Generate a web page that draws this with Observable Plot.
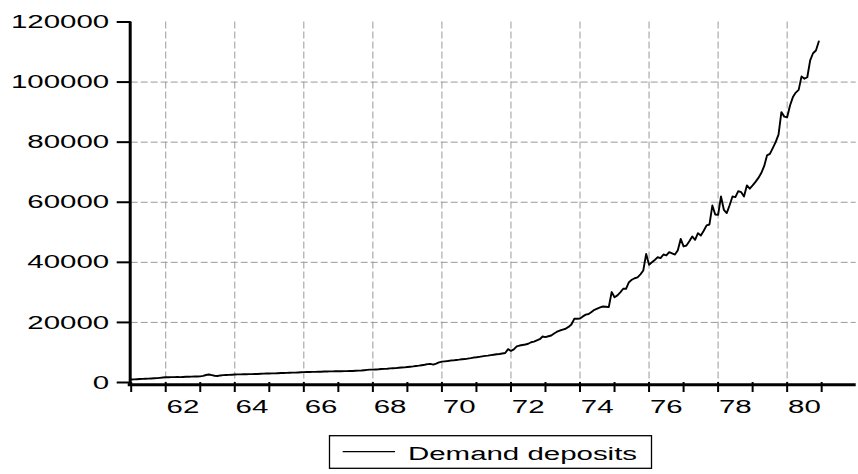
<!DOCTYPE html>
<html>
<head>
<meta charset="utf-8">
<script src="https://cdn.jsdelivr.net/npm/d3@7"></script>
<script src="https://cdn.jsdelivr.net/npm/@observablehq/plot@0.6"></script>
<style>
  html, body { margin: 0; padding: 0; background: #fff; }
  #chart { width: 858px; height: 474px; }
</style>
</head>
<body>
<div id="chart"></div>
<script>
// Monthly demand deposits, Jan..Dec of each year
const startYear = 1961;
const dd1961 = [1000,1050,1100,1150,1200,1250,1300,1350,1400,1450,1550,1650];
const dd1962 = [1750,1750,1800,1800,1850,1800,1850,1900,1900,1950,2000,2000];
const dd1963 = [2050,2200,2500,2650,2450,2250,2150,2350,2450,2500,2550,2600];
const dd1964 = [2650,2700,2700,2750,2750,2800,2800,2850,2850,2900,2950,3000];
const dd1965 = [3000,3050,3050,3100,3150,3150,3200,3250,3300,3300,3350,3400];
const dd1966 = [3450,3500,3500,3550,3550,3600,3600,3650,3650,3700,3700,3750];
const dd1967 = [3750,3750,3800,3800,3850,3850,3900,3950,4000,4100,4200,4300];
const dd1968 = [4300,4350,4400,4500,4550,4600,4700,4750,4800,4900,5000,5050];
const dd1969 = [5150,5250,5350,5500,5600,5750,5900,6100,6200,5950,6300,6700];
const dd1970 = [6950,7050,7150,7300,7350,7500,7600,7750,7800,7950,8100,8300];
const dd1971 = [8400,8550,8700,8850,8950,9100,9250,9400,9500,9650,9800,11100];
const dd1972 = [10500,11000,12000,12300,12500,12650,12900,13400,13600,14000,14400,15300];
const dd1973 = [15100,15400,15650,16300,16900,17300,17600,17900,18500,19300,21200,21200];
const dd1974 = [21300,22000,22600,22800,23500,24200,24600,25000,25300,25200,25100,30100];
const dd1975 = [28400,29000,30000,31200,31200,33400,34200,34700,35000,36000,37300,42800];
const dd1976 = [39200,40000,40800,41700,41400,42600,42300,43400,43000,42600,44000,47800];
const dd1977 = [45300,45600,47000,48600,47500,49700,48900,50500,52300,52600,58900,55900];
const dd1978 = [55800,61900,57500,56400,59000,61900,61700,63700,63400,61900,65600,64500];
const dd1979 = [65600,66800,68100,69700,72000,75600,76100,78000,80000,82500,90000,88500];
const dd1980 = [88300,92200,95000,96500,97400,101900,101100,101600,107200,109600,110500,113500];

const yearlySeries = [dd1961,dd1962,dd1963,dd1964,dd1965,dd1966,dd1967,dd1968,dd1969,dd1970,
                      dd1971,dd1972,dd1973,dd1974,dd1975,dd1976,dd1977,dd1978,dd1979,dd1980];

const yTicks = [0, 20000, 40000, 60000, 80000, 100000, 120000];
const yGrid = [20000, 40000, 60000, 80000, 100000];
const xTickYears = d3.range(1961, 1982);
const xLabelYears = [1962, 1964, 1966, 1968, 1970, 1972, 1974, 1976, 1978, 1980];
const seriesName = "Demand deposits";

const data = [];
yearlySeries.forEach((vals, i) => {
  vals.forEach((v, m) => data.push({t: startYear + i + m / 12, v}));
});

const font = "'Liberation Sans', Arial, sans-serif";
const stretch = 1.55;

const svg = Plot.plot({
  width: 858,
  height: 474,
  marginLeft: 130.7,
  marginRight: 2.3,
  marginTop: 21.5,
  marginBottom: 92,
  x: {domain: [1961, 1982], label: null},
  y: {domain: [0, 120000], label: null},
  style: {fontFamily: font, fontSize: "19px", color: "#000", background: "#fff", overflow: "visible"},
  marks: [
    Plot.gridX(xLabelYears, {stroke: "#9a9a9a", strokeOpacity: 1, strokeWidth: 1, strokeDasharray: "7,3"}),
    Plot.gridY(yGrid, {stroke: "#9a9a9a", strokeOpacity: 1, strokeWidth: 1, strokeDasharray: "7,3"}),
    Plot.axisY(yTicks, {tickSize: 14, tickPadding: 8, tickFormat: d => String(d), strokeWidth: 2, label: null}),
    Plot.axisX(xTickYears, {tickSize: 10, tickFormat: () => "", strokeWidth: 2, label: null}),
    Plot.axisX(xLabelYears.map(y => y + 0.5), {tickSize: 0, tickPadding: 17, tickFormat: d => String(Math.floor(d) % 100), label: null}),
    Plot.line(data, {x: "t", y: "v", stroke: "#000", strokeWidth: 1.9}),
    Plot.ruleX([1961], {dx: -1, strokeWidth: 3, stroke: "#000", insetBottom: -4}),
    Plot.ruleY([0], {dy: 2.3, strokeWidth: 3, stroke: "#000", insetLeft: -3})
  ]
});

document.getElementById("chart").appendChild(svg);

// Legend below the plot area
const g = d3.select(svg).append("g").attr("font-family", font).attr("font-size", 19);
g.append("rect").attr("x", 329.5).attr("y", 435.7).attr("width", 322).attr("height", 32.6)
  .attr("fill", "#fff").attr("stroke", "#000").attr("stroke-width", 1.3);
g.append("line").attr("x1", 342.7).attr("x2", 395).attr("y1", 451.7).attr("y2", 451.7)
  .attr("stroke", "#000").attr("stroke-width", 1.2);
g.append("text").attr("x", 408).attr("y", 460).attr("text-anchor", "start").attr("fill", "#000").text(seriesName);

// Horizontal stretch of all texts about their anchor point
svg.querySelectorAll("text").forEach(el => {
  const bb = el.getBBox();
  const anchor = getComputedStyle(el).textAnchor;
  let ax = bb.x;
  if (anchor === "end") ax = bb.x + bb.width;
  else if (anchor === "middle") ax = bb.x + bb.width / 2;
  const prev = el.getAttribute("transform") || "";
  el.setAttribute("transform", `${prev} translate(${ax},0) scale(${stretch},1) translate(${-ax},0)`);
});
</script>
</body>
</html>
